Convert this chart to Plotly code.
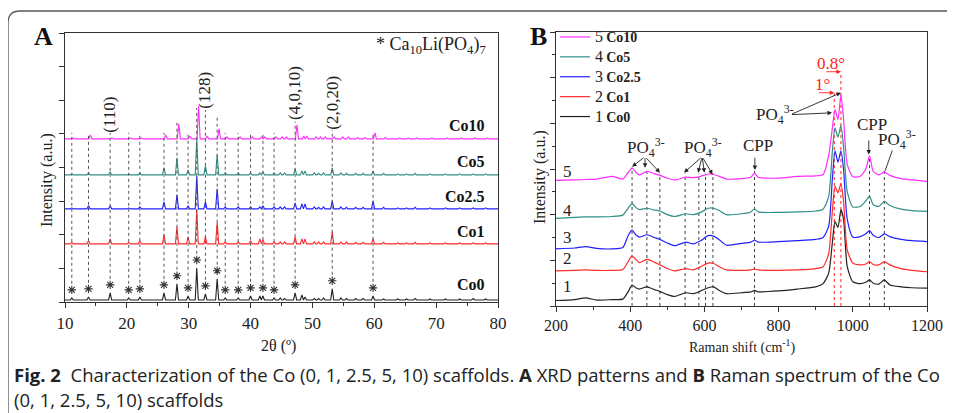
import plotly.graph_objects as go

W, H = 955, 413
OFF = 8  # page body margin of the html page
def px(x): return (x - OFF) / W
def py(y): return 1 - (y - OFF) / H

# ---------------- Panel A: XRD data ----------------
xrd_series = ["Co0", "Co1", "Co2.5", "Co5", "Co10"]
xrd_colors = ["#222222", "#ff2a2a", "#2020ff", "#2e8f84", "#ff2bff"]
xrd_offsets = [0.06, 1.73, 2.77, 3.78, 4.85]
xrd_shift = [0.0, 0.0, 0.0, 0.0, 0.3]
xrd_pos = [11.1, 13.8, 17.3, 20.3, 22.1, 26.0, 28.1, 29.9, 31.3, 32.7,
           34.6, 35.9, 38.0, 40.0, 41.5, 42.0, 43.8, 44.8, 45.5, 47.2,
           48.3, 48.8, 50.3, 51.0, 51.8, 53.2, 54.6, 55.5, 57.0, 58.2,
           59.8, 61.5, 63.8, 65.2, 66.6, 69.0, 71.5, 73.8, 76.0, 78.0]
xrd_co0 = [0.06, 0.09, 0.21, 0.06, 0.09, 0.21, 0.48, 0.12, 0.95, 0.18,
           0.63, 0.06, 0.06, 0.12, 0.12, 0.12, 0.06, 0.06, 0.045, 0.21,
           0.15, 0.09, 0.045, 0.045, 0.06, 0.33, 0.06, 0.045, 0.045, 0.045,
           0.12, 0.03, 0.03, 0.03, 0.045, 0.03, 0.03, 0.03, 0.045, 0.03]
xrd_co1 = [0.045, 0.09, 0.15, 0.045, 0.09, 0.27, 0.51, 0.21, 1.01, 0.21,
           0.63, 0.06, 0.06, 0.09, 0.15, 0.12, 0.06, 0.06, 0.06, 0.21,
           0.15, 0.15, 0.06, 0.06, 0.06, 0.36, 0.06, 0.06, 0.045, 0.045,
           0.15, 0.045, 0.03, 0.03, 0.045, 0.03, 0.03, 0.03, 0.03, 0.03]
xrd_co25 = [0.03, 0.09, 0.09, 0.03, 0.06, 0.21, 0.42, 0.09, 0.98, 0.21,
            0.60, 0.06, 0.06, 0.06, 0.06, 0.09, 0.06, 0.06, 0.06, 0.18,
            0.15, 0.15, 0.06, 0.045, 0.06, 0.24, 0.06, 0.045, 0.045, 0.045,
            0.24, 0.045, 0.03, 0.03, 0.045, 0.03, 0.03, 0.03, 0.03, 0.03]
xrd_co5 = [0.03, 0.06, 0.09, 0.03, 0.06, 0.21, 0.51, 0.15, 1.07, 0.27,
           0.60, 0.06, 0.06, 0.06, 0.06, 0.09, 0.06, 0.06, 0.06, 0.18,
           0.12, 0.12, 0.06, 0.045, 0.06, 0.21, 0.06, 0.045, 0.045, 0.045,
           0.12, 0.045, 0.03, 0.03, 0.045, 0.03, 0.03, 0.03, 0.03, 0.03]
xrd_co10 = [0.03, 0.12, 0.03, 0.03, 0.03, 0.12, 0.45, 0.09, 0.98, 0.09,
            0.30, 0.06, 0.06, 0.06, 0.06, 0.06, 0.06, 0.06, 0.06, 0.42,
            0.09, 0.09, 0.06, 0.06, 0.06, 0.06, 0.06, 0.06, 0.045, 0.045,
            0.18, 0.045, 0.03, 0.03, 0.03, 0.03, 0.03, 0.03, 0.03, 0.03]
xrd_heights = [xrd_co0, xrd_co1, xrd_co25, xrd_co5, xrd_co10]

star_pos = [11.1, 13.8, 17.3, 20.3, 22.1, 26.0, 28.1, 29.9, 31.3, 32.7,
            34.6, 35.9, 38.0, 40.0, 42.0, 43.8, 47.2, 53.2, 59.8]
guide_tops_a = [5.03, 5.03, 5.03, 5.03, 5.03, 5.03, 5.42, 5.03, 5.77, 5.71,
                5.48, 5.03, 5.03, 5.03, 5.03, 5.03, 5.36, 5.12, 5.03]
hkl_labels = ["(110)", "(128)", "(4,0,10)", "(2,0,20)"]
hkl_pos = [17.3, 32.6, 47.2, 53.3]
hkl_y = [5.57, 6.31, 6.22, 5.92]

# ---------------- Panel B: Raman data ----------------
raman_x = [200, 250, 280, 310, 350, 380, 395, 405, 415, 425, 445, 465, 480, 500, 520,
           550, 570, 590, 610, 625, 640, 660, 700, 725, 735, 745, 800, 850, 900, 920,
           935, 945, 952, 960, 968, 975, 985, 1000, 1020, 1035, 1045, 1055, 1070, 1085,
           1100, 1130, 1160, 1200]
raman_co0 = [0.12, 0.14, 0.18, 0.13, 0.14, 0.15, 0.32, 0.46, 0.40, 0.37, 0.42, 0.36, 0.32, 0.25, 0.21,
             0.29, 0.27, 0.33, 0.40, 0.42, 0.34, 0.27, 0.29, 0.31, 0.34, 0.31, 0.33, 0.37, 0.42, 0.49,
             0.72, 1.40, 1.85, 1.72, 2.11, 1.90, 0.86, 0.53, 0.49, 0.52, 0.57, 0.50, 0.48, 0.57,
             0.46, 0.42, 0.40, 0.39]
raman_co1 = [0.77, 0.78, 0.79, 0.78, 0.78, 0.80, 0.98, 1.10, 1.02, 0.95, 1.02, 0.96, 0.90, 0.82, 0.77,
             0.82, 0.79, 0.86, 0.94, 0.93, 0.86, 0.79, 0.78, 0.79, 0.81, 0.79, 0.78, 0.79, 0.82, 0.86,
             1.15, 2.10, 2.62, 2.48, 2.68, 2.30, 1.23, 0.94, 0.90, 0.92, 0.97, 0.91, 0.90, 0.97,
             0.90, 0.82, 0.78, 0.75]
raman_co25 = [1.25, 1.27, 1.30, 1.26, 1.25, 1.28, 1.55, 1.66, 1.56, 1.51, 1.56, 1.50, 1.46, 1.38, 1.32,
              1.40, 1.36, 1.43, 1.54, 1.53, 1.45, 1.33, 1.37, 1.40, 1.44, 1.40, 1.41, 1.43, 1.46, 1.50,
              1.75, 2.80, 3.40, 3.15, 3.40, 3.00, 1.90, 1.51, 1.52, 1.58, 1.65, 1.55, 1.50, 1.58,
              1.52, 1.46, 1.43, 1.41]
raman_co5 = [1.92, 1.94, 1.95, 1.95, 1.96, 1.99, 2.15, 2.24, 2.16, 2.11, 2.14, 2.10, 2.08, 2.00, 1.96,
             2.02, 2.00, 2.05, 2.14, 2.14, 2.09, 2.00, 2.02, 2.06, 2.13, 2.06, 2.05, 2.06, 2.08, 2.12,
             2.40, 3.40, 3.90, 3.70, 3.95, 3.50, 2.50, 2.17, 2.18, 2.30, 2.40, 2.22, 2.18, 2.29,
             2.20, 2.12, 2.09, 2.07]
raman_co10 = [2.75, 2.76, 2.77, 2.78, 2.84, 2.78, 2.93, 3.02, 2.93, 2.87, 2.95, 2.90, 2.86, 2.80, 2.76,
              2.82, 2.81, 2.84, 2.89, 2.88, 2.84, 2.78, 2.79, 2.82, 2.91, 2.82, 2.80, 2.84, 2.85, 2.88,
              3.30, 3.90, 4.30, 4.08, 4.63, 4.10, 3.10, 2.83, 2.84, 3.00, 3.29, 2.95, 2.87, 2.93,
              2.86, 2.79, 2.76, 2.73]
raman_series = [raman_co0, raman_co1, raman_co25, raman_co5, raman_co10]
raman_numbers = ["1", "2", "3", "4", "5"]
raman_number_y = [0.42, 1.05, 1.51, 2.10, 2.94]
raman_guides = [405, 445, 480, 548, 585, 603, 623, 735, 1045, 1085]
raman_guide_tops = [3.03, 3.0, 2.9, 2.9, 2.9, 2.9, 2.9, 3.0, 3.27, 2.97]
shift_lines = [950, 968]
shift_tops = [4.67, 5.13]

SERIF = "Liberation Serif, Times New Roman, serif"
SANS = "Open Sans, Noto Sans, sans-serif"
AX = "#333333"

fig = go.Figure()

for name, col, off, sh, hts in zip(xrd_series, xrd_colors, xrd_offsets, xrd_shift, xrd_heights):
    xs, ys = [10], [off]
    for p, h in zip(xrd_pos, hts):
        q = p + sh
        xs += [q - 0.25, q, q + 0.25]
        ys += [off, off + h, off]
    xs.append(80); ys.append(off)
    fig.add_trace(go.Scatter(x=xs, y=ys, mode="lines", line=dict(color=col, width=1.1),
                             showlegend=False, xaxis="x", yaxis="y", hoverinfo="skip"))

co0_top = {p: xrd_offsets[0] + h for p, h in zip(xrd_pos, xrd_co0)}
star_y = [co0_top[p] + 0.24 for p in star_pos]
gx, gy = [], []
for p, sy, t in zip(star_pos, star_y, guide_tops_a):
    gx += [p, p, None]
    gy += [sy + 0.18, t, None]
fig.add_trace(go.Scatter(x=gx, y=gy, mode="lines", line=dict(color="#555555", width=1, dash="dot"),
                         showlegend=False, xaxis="x", yaxis="y", hoverinfo="skip"))
fig.add_trace(go.Scatter(x=star_pos, y=star_y, mode="markers",
                         marker=dict(symbol="asterisk-open", size=7, color="#333333",
                                     line=dict(color="#333333", width=1.1)),
                         showlegend=False, xaxis="x", yaxis="y", hoverinfo="skip"))

rgx, rgy = [], []
for p, t in zip(raman_guides, raman_guide_tops):
    rgx += [p, p, None]; rgy += [0, t, None]
fig.add_trace(go.Scatter(x=rgx, y=rgy, mode="lines", line=dict(color="#444444", width=1, dash="dot"),
                         showlegend=False, xaxis="x2", yaxis="y2", hoverinfo="skip"))
sgx, sgy = [], []
for p, t in zip(shift_lines, shift_tops):
    sgx += [p, p, None]; sgy += [0, t, None]
fig.add_trace(go.Scatter(x=sgx, y=sgy, mode="lines", line=dict(color="#ff2020", width=1, dash="dot"),
                         showlegend=False, xaxis="x2", yaxis="y2", hoverinfo="skip"))

for i, (name, col, ys) in enumerate(zip(xrd_series, xrd_colors, raman_series)):
    fig.add_trace(go.Scatter(
        x=raman_x, y=ys, mode="lines", line=dict(color=col, width=1.2, shape="spline", smoothing=0.6),
        name=f"<span style='font-size:16px'>{raman_numbers[i]}</span> <span style='font-size:14px'><b>{name}</b></span>",
        xaxis="x2", yaxis="y2", hoverinfo="skip"))

ann = []
def pann(text, x, y, size, family=SERIF, color="#222", xanchor="center", angle=0):
    ann.append(dict(text=text, x=px(x), y=py(y), xref="paper", yref="paper", showarrow=False,
                    xanchor=xanchor, yanchor="middle", textangle=angle,
                    font=dict(family=family, size=size, color=color)))

pann("<b>A</b>", 43, 37, 26, color="#111")
pann("<b>B</b>", 538, 37, 26, color="#111")
pann("Intensity (a.u.)", 47, 180, 16, angle=-90)
pann("Intensity (a.u.)", 540, 177, 16, angle=-90)
pann("2θ (º)", 278, 346, 16)
pann("Raman shift (cm<sup>-1</sup>)", 742, 346, 14)
pann("* Ca<sub>10</sub>Li(PO<sub>4</sub>)<sub>7</sub>", 488, 45, 18, xanchor="right")
for lab, ly in zip(["Co10", "Co5", "Co2.5", "Co1", "Co0"], [125, 161, 196, 231, 284]):
    pann(f"<b>{lab}</b>", 487, ly, 16, color="#111", xanchor="right")
for lab, lx, ly in zip(hkl_labels, hkl_pos, hkl_y):
    ann.append(dict(text=lab, x=lx, y=ly, xref="x", yref="y", showarrow=False, textangle=-90,
                    xanchor="center", yanchor="middle",
                    font=dict(family=SERIF, size=17, color="#222")))
for lab, ly in zip(raman_numbers, raman_number_y):
    ann.append(dict(text=lab, x=232, y=ly, xref="x2", yref="y2", showarrow=False,
                    xanchor="center", yanchor="middle",
                    font=dict(family=SERIF, size=17, color="#222")))

PO4 = "PO<sub>4</sub><sup>3-</sup>"
def label(t, x, y, size=17, color="#222"):
    ann.append(dict(text=t, x=x, y=y, xref="x2", yref="y2", showarrow=False,
                    xanchor="center", yanchor="middle",
                    font=dict(family=SERIF, size=size, color=color)))
def arrow(x0, y0, x1, y1, color="#222", head=2):
    ann.append(dict(text="", x=x1, y=y1, ax=x0, ay=y0, xref="x2", yref="y2", axref="x2", ayref="y2",
                    showarrow=True, arrowhead=head, arrowsize=1, arrowwidth=0.9, arrowcolor=color))

label(PO4, 442, 3.46)
for tx, ty in [(405, 3.05), (440, 3.03), (480, 2.92)]:
    arrow(440, 3.27, tx, ty)
label(PO4, 595, 3.46)
for tx, ty in [(545, 2.92), (583, 2.92), (600, 2.92), (622, 2.88)]:
    arrow(594, 3.27, tx, ty)
label("CPP", 744, 3.51)
arrow(736, 3.28, 736, 2.98)
label(PO4, 790, 4.19)
arrow(832, 4.19, 968, 4.67)
arrow(832, 4.19, 944, 4.23)
label("CPP", 1052, 3.97)
arrow(1043, 3.66, 1043, 3.32)
label(PO4, 1118, 3.64)
arrow(1108, 3.44, 1087, 2.96, head=0)
label("0.8°", 940, 5.31, size=17, color="#ff2020")
label("1°", 918, 4.86, size=17, color="#ff2020")
arrow(925, 5.13, 968, 5.13, color="#ff2020")
arrow(905, 4.67, 950, 4.67, color="#ff2020")

pann("<b>Fig. 2</b>  Characterization of the Co (0, 1, 2.5, 5, 10) scaffolds. <b>A</b> XRD patterns and <b>B</b> Raman spectrum of the Co",
     12, 374, 18.5, family=SANS, xanchor="left")
pann("(0, 1, 2.5, 5, 10) scaffolds", 12, 399, 18.5, family=SANS, xanchor="left")

axis_common = dict(showline=True, linecolor=AX, linewidth=1.3, mirror=True, showgrid=False,
                   zeroline=False, ticks="outside", tickcolor=AX, ticklen=5, tickwidth=1.1)

fig.update_layout(
    width=W, height=H, autosize=False,
    margin=dict(l=0, r=0, t=0, b=0, pad=0, autoexpand=False),
    paper_bgcolor="white", plot_bgcolor="white",
    xaxis=dict(domain=[px(65), px(498)], range=[10, 80], dtick=10, anchor="y",
               tickfont=dict(family=SERIF, size=17, color="#222"),
               minor=dict(dtick=5, ticks="outside", ticklen=3, tickcolor=AX), **axis_common),
    yaxis=dict(domain=[py(302), py(33)], range=[0, 8], dtick=1, showticklabels=False, anchor="x",
               **axis_common),
    xaxis2=dict(domain=[px(556), px(927)], range=[200, 1200], dtick=200, anchor="y2",
                tickfont=dict(family=SERIF, size=16, color="#222"),
                minor=dict(dtick=100, ticks="outside", ticklen=3, tickcolor=AX), **axis_common),
    yaxis2=dict(domain=[py(306), py(32)], range=[0, 6], dtick=1, showticklabels=False, anchor="x2",
                minor=dict(dtick=0.5, ticks="outside", ticklen=3, tickcolor=AX), **axis_common),
    legend=dict(x=px(555), y=py(22), xanchor="left", yanchor="top", traceorder="reversed",
                font=dict(family=SERIF, size=13, color="#222"), bgcolor="rgba(0,0,0,0)",
                tracegroupgap=0, itemwidth=30),
    annotations=ann,
    shapes=[dict(type="path", xref="paper", yref="paper", line=dict(color="#555555", width=1.3),
                 path=f"M {px(8)},{py(421)} L {px(8)},{py(23)} Q {px(8)},{py(11)} {px(20)},{py(11)} L {px(963)},{py(11)}")],
    showlegend=True,
)

fig.write_html("out.html")
